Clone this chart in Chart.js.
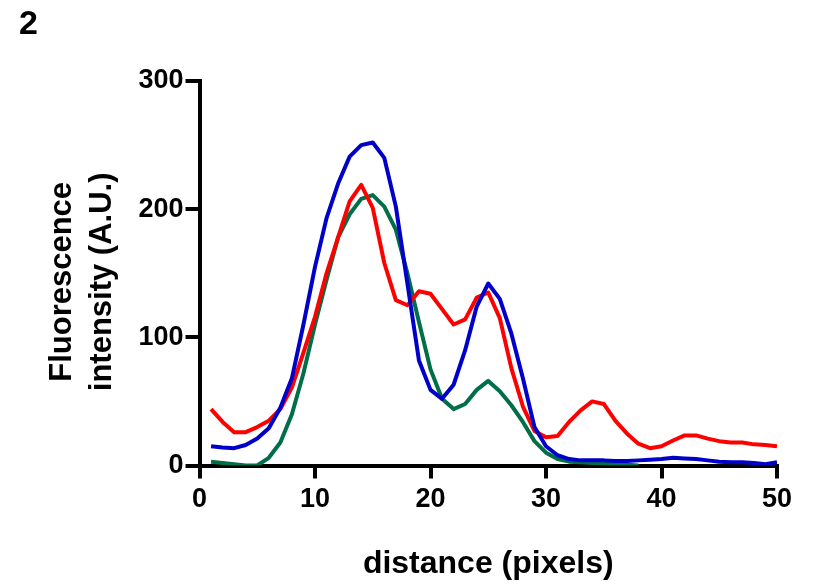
<!DOCTYPE html>
<html>
<head>
<meta charset="utf-8">
<script src="https://cdn.jsdelivr.net/npm/chart.js@4/dist/chart.umd.min.js"></script>
<style>
  html, body { margin: 0; padding: 0; background: #fff; }
  #wrap { position: relative; width: 823px; height: 587px; }
  #panel { position: absolute; left: 19px; top: 3px; font: bold 34px "Liberation Sans", Arial, sans-serif; color: #000; }
  canvas { display: block; }
</style>
</head>
<body>
<div id="wrap">
  <canvas id="c" width="823" height="587"></canvas>
  <div id="panel">2</div>
</div>
<script>
// Data
const distance = [1,2,3,4,5,6,7,8,9,10,11,12,13,14,15,16,17,18,19,20,21,22,23,24,25,26,27,28,29,30,31,32,33,34,35,36,37,38,39,40,41,42,43,44,45,46,47,48,49,50];
const redSeries = [44,34,26,26,30,35,44,61,88,116,150,178,206,219,201,158,129,125,136,134,122,110,114,131,135,115,76,46,27,22,23,34,43,50,48,35,25,17,13.5,15,19.5,23.5,23.5,21,19,18,18,16.5,16,15];
const greenSeries = [3,2,1,0,0,6,18,40,72,110,145,178,196,208,211,202,184,150,112,75,52,44,48,59,66,58,47,34,19,10,5,3,2.5,2,1.5,1,0.5,0];
const blueSeries = [15,14,13.5,16,21,29,45,68,110,155,193,220,241,250,252,240,202,142,82,59,52,63,90,124,142,130,103,68,30,15,8,5,4,4,4,3.5,3.5,4,4.5,5,6,5.5,5,4,3,2.5,2.5,2,1,2.5];
const xTicks = [0,10,20,30,40,50];
const yTicks = [0,100,200,300];
const xTitle = 'distance (pixels)';
const yTitle = ['Fluorescence\u00a0\u00a0', 'intensity (A.U.)\u00a0\u00a0'];

function pts(vals) { return vals.map((v, i) => ({ x: distance[i], y: v })); }

const FONT = '"Liberation Sans", Arial, sans-serif';
Chart.defaults.font.family = FONT;
Chart.defaults.color = '#000';

const lineStyle = { borderWidth: 4, pointRadius: 0, tension: 0, fill: false, borderJoinStyle: 'round', borderCapStyle: 'butt' };

new Chart(document.getElementById('c'), {
  type: 'line',
  data: {
    datasets: [
      Object.assign({ label: 'blue', data: pts(blueSeries), borderColor: '#0000c8', order: 0 }, lineStyle),
      Object.assign({ label: 'red', data: pts(redSeries), borderColor: '#ff0000', order: 1 }, lineStyle),
      Object.assign({ label: 'green', data: pts(greenSeries), borderColor: '#006e46', order: 2 }, lineStyle)
    ]
  },
  options: {
    responsive: false,
    animation: false,
    devicePixelRatio: 1,
    layout: { padding: { left: 0, right: 46, top: 81, bottom: 0 } },
    plugins: { legend: { display: false }, tooltip: { enabled: false } },
    scales: {
      x: {
        type: 'linear', min: 0, max: 50,
        afterBuildTicks: (s) => { s.ticks = xTicks.map(v => ({ value: v })); },
        afterFit: (s) => { s.height = 121.5; },
        grid: { drawOnChartArea: false, drawTicks: true, tickLength: 13, tickWidth: 4, tickColor: '#000', lineWidth: 4, color: '#000' },
        border: { display: true, width: 4, color: '#000' },
        ticks: { font: { size: 27, weight: 'bold' }, padding: 5, color: '#000', maxRotation: 0 },
        title: { display: true, text: xTitle, font: { size: 32, weight: 'bold' }, padding: { top: 0, bottom: 4 }, color: '#000' }
      },
      y: {
        type: 'linear', min: 0, max: 300,
        afterBuildTicks: (s) => { s.ticks = yTicks.map(v => ({ value: v })); },
        afterFit: (s) => { s.width = 199.5; },
        grid: { drawOnChartArea: false, drawTicks: true, tickLength: 14, tickWidth: 4, tickColor: '#000', lineWidth: 4, color: '#000' },
        border: { display: true, width: 4, color: '#000' },
        ticks: { font: { size: 27, weight: 'bold' }, padding: 2, color: '#000' },
        title: { display: true, text: yTitle, font: { size: 31, weight: 'bold', lineHeight: 1.3 }, padding: { top: 42, bottom: 0 }, color: '#000' }
      }
    }
  }
});
</script>
</body>
</html>
